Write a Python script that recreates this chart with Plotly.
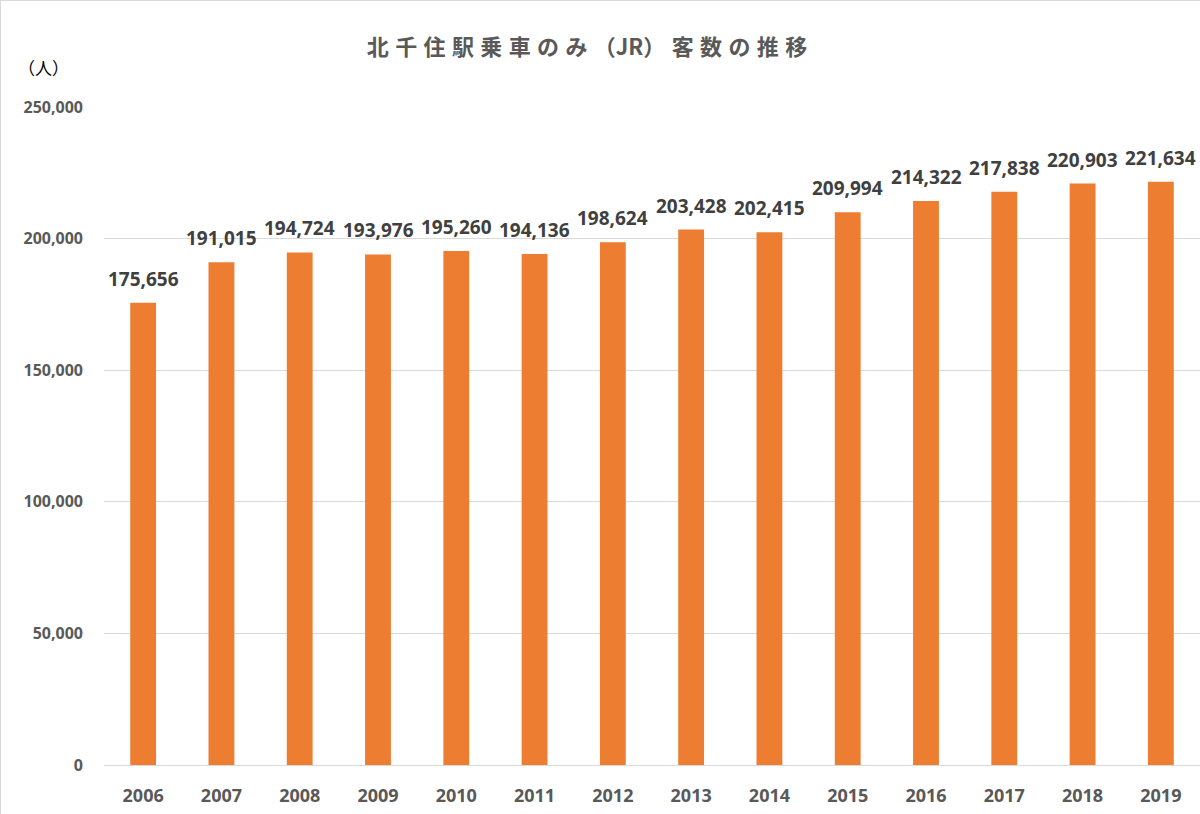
import plotly.graph_objects as go

years = ["2006", "2007", "2008", "2009", "2010", "2011", "2012", "2013", "2014", "2015", "2016", "2017", "2018", "2019"]
passengers = [175656, 191015, 194724, 193976, 195260, 194136, 198624, 203428, 202415, 209994, 214322, 217838, 220903, 221634]
y_ticks = [0, 50000, 100000, 150000, 200000, 250000]
y_tick_labels = ["0", "50,000", "100,000", "150,000", "200,000", "250,000"]
title_chars = ["北", "千", "住", "駅", "乗", "車", "の", "み", "（JR）", "客", "数", "の", "推", "移"]
unit_text = "（人）"

L, R, T, B = 104, 0, 107, 49
W, H = 1200, 814
pw, ph = W - L - R, H - T - B

fig = go.Figure()
fig.add_trace(go.Bar(
    x=years, y=passengers,
    marker=dict(color="#ED7D31", line=dict(width=0)),
    hoverinfo="x+y",
))

# value labels: category axis positions are the category indices
for i, v in enumerate(passengers):
    fig.add_annotation(
        x=i, y=v, xref="x", yref="y", text=f"{v:,}", showarrow=False,
        xanchor="center", yanchor="bottom", yshift=9,
        font=dict(family="Open Sans, Noto Sans", size=19, color="#404040", weight="bold"),
    )

fig.add_annotation(
    text=unit_text, xref="paper", yref="paper", x=(16 - L) / pw, y=1 + (T - 67) / ph,
    xanchor="left", yanchor="middle", showarrow=False,
    font=dict(family="Noto Sans CJK JP", size=17, color="#000000"),
)

fig.update_layout(
    width=W, height=H,
    paper_bgcolor="white", plot_bgcolor="white",
    margin=dict(l=L, r=R, t=T, b=B),
    bargap=0.67,
    showlegend=False,
    title=dict(
        text=" \u200a".join(title_chars),
        x=587 / W, xanchor="center", y=1 - 47 / H, yanchor="middle",
        font=dict(family="Noto Sans CJK JP", size=22, color="#595959", weight="bold"),
    ),
    xaxis=dict(
        type="category", range=[-0.5, len(years) - 0.5],
        showgrid=False, showline=True, linecolor="#D9D9D9", linewidth=1,
        ticks="", tickfont=dict(family="Open Sans, Noto Sans", size=18, color="#595959", weight="bold"),
        ticklabelstandoff=14,
    ),
    yaxis=dict(
        range=[0, 250000], tickvals=y_ticks, ticktext=y_tick_labels,
        showgrid=True, gridcolor="#D9D9D9", gridwidth=1,
        zeroline=False, showline=False, ticks="",
        tickfont=dict(family="Open Sans, Noto Sans", size=16, color="#595959", weight="bold"),
        ticklabelstandoff=20,
    ),
    shapes=[
        dict(type="line", xref="paper", yref="paper", x0=-L / pw, x1=1, y0=1 + T / ph, y1=1 + T / ph,
             line=dict(color="#D9D9D9", width=2)),
        dict(type="line", xref="paper", yref="paper", x0=-L / pw, x1=-L / pw, y0=-B / ph, y1=1 + T / ph,
             line=dict(color="#D9D9D9", width=2)),
    ],
)

fig.write_html("out.html", config={"displayModeBar": False},
               post_script="document.body.style.margin='0';document.body.style.overflow='hidden';")
